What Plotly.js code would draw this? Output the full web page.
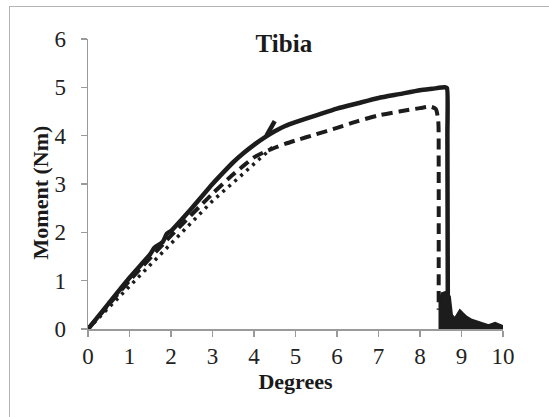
<!DOCTYPE html>
<html>
<head>
<meta charset="utf-8">
<script src="https://cdn.plot.ly/plotly-3.0.1.min.js"></script>
<style>
html,body{margin:0;padding:0;background:#fff;}
#wrap{position:relative;width:549px;height:417px;overflow:hidden;}
#chart{width:549px;height:417px;}
#frame{position:absolute;left:9px;top:6px;width:560px;height:430px;border:1.5px solid #b4b4b4;pointer-events:none;}
</style>
</head>
<body>
<div id="wrap"><div id="chart"></div><div id="frame"></div></div>
<script>
// Solid specimen (with a short hook segment near x=4.4)
const solidX = [0,0.5,1,1.5,1.6,1.8,1.9,2,2.5,3,3.25,3.5,3.75,4,4.25,4.5,4.75,5,5.5,6,6.5,7,7.5,8,8.3,8.6,8.65,8.66,8.67,null,4.3,4.5];
const solidY = [0,0.53,1.06,1.55,1.68,1.8,1.97,2.03,2.5,3.0,3.23,3.45,3.64,3.81,3.96,4.09,4.2,4.28,4.42,4.56,4.67,4.78,4.86,4.94,4.97,5.0,4.98,4.0,0.6,null,4.0,4.3];
// Dashed specimen
const dashX = [0,1,2,3,3.5,3.75,4,4.25,4.5,4.75,5,5.5,6,6.5,7,7.5,8,8.25,8.38,8.44,8.45,8.45];
const dashY = [0,1.0,1.93,2.8,3.2,3.38,3.55,3.66,3.75,3.83,3.9,4.03,4.16,4.3,4.42,4.5,4.57,4.6,4.55,4.3,3.5,0.4];
// Dotted specimen
const dotX = [0,1,2,3,3.5,4,4.5];
const dotY = [0,0.88,1.75,2.65,3.03,3.42,3.8];
// Post-failure noise envelope
const noiseX = [8.47,8.47,8.52,8.64,8.72,8.77,8.84,8.96,9.04,9.13,9.25,9.45,9.65,9.81,9.93,10.0];
const noiseY = [0,0.56,0.74,0.77,0.67,0.29,0.22,0.39,0.32,0.25,0.19,0.13,0.08,0.13,0.08,0.06];
// Axis ticks
const xTicks = [0,1,2,3,4,5,6,7,8,9,10];
const yTicks = [0,1,2,3,4,5,6];

const ink = '#1c1c1c';
const traces = [
  {x: noiseX, y: noiseY, mode:'lines', fill:'tozeroy', fillcolor: ink, line:{color: ink, width:2}, hoverinfo:'skip'},
  {x: dotX, y: dotY, mode:'lines', line:{color: ink, width:3.5, dash:'3px,5px'}},
  {x: dashX, y: dashY, mode:'lines', line:{color: ink, width:4, dash:'11px,6px', shape:'spline', smoothing:0.6}},
  {x: solidX, y: solidY, mode:'lines', connectgaps:false, line:{color: ink, width:4.5, shape:'spline', smoothing:0.5}}
];
const serif = 'Liberation Serif';
const layout = {
  width:549, height:417,
  margin:{l:87.5, r:46, t:38.5, b:88},
  paper_bgcolor:'#fff', plot_bgcolor:'#fff',
  showlegend:false,
  font:{family: serif, color:'#222', size:23},
  title:{text:'Tibia', font:{family: serif, size:25, color:'#1a1a1a', weight:'bold'}, xref:'paper', x:0.472, xanchor:'center', yref:'container', y:0.897, yanchor:'middle'},
  xaxis:{range:[0,10], tickvals:xTicks, ticktext:xTicks.map(String), showgrid:false, zeroline:false,
         showline:true, linecolor:'#9a9a9a', linewidth:1.5, ticks:'outside', ticklen:6, tickcolor:'#9a9a9a', tickwidth:1.5,
         tickfont:{family: serif, size:23, color:'#222'},
         title:{text:'Degrees', font:{family: serif, size:22, color:'#1a1a1a', weight:'bold'}, standoff:0}},
  yaxis:{range:[0,6], tickvals:yTicks, ticktext:yTicks.map(String), showgrid:false, zeroline:false,
         showline:true, linecolor:'#9a9a9a', linewidth:1.5, ticks:'outside', ticklen:6, tickcolor:'#9a9a9a', tickwidth:1.5,
         ticklabelstandoff:10,
         tickfont:{family: serif, size:23, color:'#222'}},
  annotations:[{text:'Moment (Nm)', textangle:-90, xref:'paper', yref:'paper', x:-0.114, y:0.47,
                xanchor:'center', yanchor:'middle', showarrow:false, font:{family: serif, size:22, color:'#1a1a1a', weight:'bold'}}]
};
Plotly.newPlot('chart', traces, layout, {staticPlot:true, displayModeBar:false});
</script>
</body>
</html>
